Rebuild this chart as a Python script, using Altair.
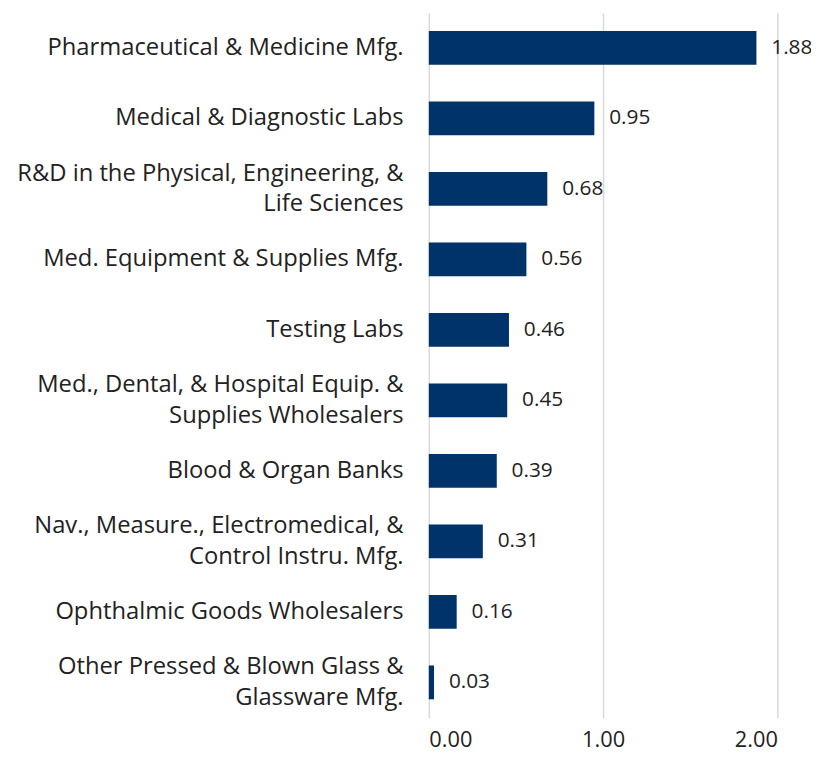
import altair as alt
import pandas as pd

categories = [
    "Pharmaceutical & Medicine Mfg.",
    "Medical & Diagnostic Labs",
    "R&D in the Physical, Engineering, &\nLife Sciences",
    "Med. Equipment & Supplies Mfg.",
    "Testing Labs",
    "Med., Dental, & Hospital Equip. &\nSupplies Wholesalers",
    "Blood & Organ Banks",
    "Nav., Measure., Electromedical, &\nControl Instru. Mfg.",
    "Ophthalmic Goods Wholesalers",
    "Other Pressed & Blown Glass &\nGlassware Mfg.",
]
values = [1.88, 0.95, 0.68, 0.56, 0.46, 0.45, 0.39, 0.31, 0.16, 0.03]
x_ticks = [0, 1, 2]

df = pd.DataFrame({"category": categories, "value": values})

FONT = "Open Sans"
BAR = "#003369"

y_enc = alt.Y(
    "category:N",
    sort=categories,
    title=None,
    scale=alt.Scale(paddingInner=0.52, paddingOuter=0.26),
    axis=alt.Axis(
        labelExpr="split(datum.label, '\\n')",
        labelFontSize=24,
        labelFont=FONT,
        labelColor="#222222",
        labelPadding=26,
        labelLineHeight=31,
        labelLimit=500,
        labelOffset={"condition": {"test": "indexof(datum.value, '\\n') >= 0", "value": -15.5}, "value": 0},
        ticks=False,
        domain=False,
        grid=False,
    ),
)

x_enc = alt.X(
    "value:Q",
    title=None,
    scale=alt.Scale(domain=[0, 2], nice=False),
    axis=alt.Axis(
        values=x_ticks,
        format=".2f",
        labelFontSize=22,
        labelFont=FONT,
        labelColor="#222222",
        labelPadding=12,
        ticks=False,
        domain=False,
        grid=True,
        gridColor="#D9D9D9",
        gridWidth=1.5,
    ),
)

bars = alt.Chart(df).mark_bar(color=BAR).encode(x=x_enc, y=y_enc)

labels = alt.Chart(df).mark_text(
    align="left", baseline="middle", dx=15, fontSize=21, font=FONT, color="#222222"
).encode(
    x="value:Q",
    y=alt.Y("category:N", sort=categories),
    text=alt.Text("value:Q", format=".2f"),
)

chart = (
    alt.layer(bars, labels)
    .properties(
        width=352,
        height=712,
        padding={"left": 425, "top": 1, "right": 34, "bottom": 34},
        autosize=alt.AutoSizeParams(type="none"),
    )
    .configure_view(stroke=None)
)

chart.save("out.html", embed_options={"renderer": "svg", "actions": False})
